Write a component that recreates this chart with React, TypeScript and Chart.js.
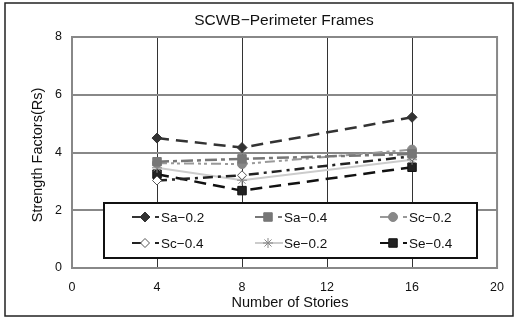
import React, { useEffect, useRef } from "react";
import { Chart, registerables } from "chart.js";

Chart.register(...registerables);

const stories = [4, 8, 16];
const seriesNames = ["Sa−0.2", "Sa−0.4", "Sc−0.2", "Sc−0.4", "Se−0.2", "Se−0.4"];
const saA = [4.5, 4.17, 5.22];
const saB = [3.68, 3.78, 3.95];
const scA = [3.63, 3.6, 4.1];
const scB = [3.03, 3.21, 3.87];
const seA = [3.47, 3.04, 3.75];
const seB = [3.25, 2.68, 3.49];
const xTicks = [0, 4, 8, 12, 16, 20];
const yTicks = [0, 2, 4, 6, 8];

const FONT = "'Liberation Sans', Arial, sans-serif";

const styles = [
  { line: "#333", fill: "#333", border: "#333", dash: [12, 7], width: 2.5, pt: "rectRot", r: 5 },
  { line: "#777", fill: "#777", border: "#777", dash: [12, 4, 4, 4], width: 2.5, pt: "rect", r: 6 },
  { line: "#999", fill: "#888", border: "#888", dash: [10, 4, 3, 3, 3, 4], width: 2, pt: "circle", r: 4.5 },
  { line: "#222", fill: "#fff", border: "#555", dash: [10, 5, 3, 5], width: 2.5, pt: "rectRot", r: 4.5 },
  { line: "#ccc", fill: "#888", border: "#888", dash: [], width: 2, pt: "star", r: 5 },
  { line: "#111", fill: "#222", border: "#111", dash: [12, 7], width: 2.5, pt: "rect", r: 6 },
];

const allData = [saA, saB, scA, scB, seA, seB];

function drawMarker(ctx: CanvasRenderingContext2D, pt: string, r: number, x: number, y: number, fill: string, border: string) {
  ctx.save();
  ctx.fillStyle = fill;
  ctx.strokeStyle = border;
  ctx.lineWidth = 1;
  ctx.beginPath();
  if (pt === "rectRot") {
    ctx.moveTo(x - r, y);
    ctx.lineTo(x, y - r);
    ctx.lineTo(x + r, y);
    ctx.lineTo(x, y + r);
    ctx.closePath();
    ctx.fill();
    ctx.stroke();
  } else if (pt === "rect") {
    const s = Math.SQRT1_2 * r;
    ctx.rect(x - s, y - s, 2 * s, 2 * s);
    ctx.fill();
    ctx.stroke();
  } else if (pt === "circle") {
    ctx.arc(x, y, r, 0, Math.PI * 2);
    ctx.fill();
    ctx.stroke();
  } else {
    for (let k = 0; k < 4; k++) {
      const ang = (k * Math.PI) / 4;
      ctx.moveTo(x - Math.cos(ang) * r, y - Math.sin(ang) * r);
      ctx.lineTo(x + Math.cos(ang) * r, y + Math.sin(ang) * r);
    }
    ctx.stroke();
  }
  ctx.restore();
}

const decor = {
  id: "decor",
  beforeDraw(chart: any) {
    const { ctx } = chart;
    ctx.save();
    ctx.fillStyle = "#fff";
    ctx.fillRect(0, 0, chart.width, chart.height);
    ctx.restore();
  },
  afterDraw(chart: any) {
    const { ctx, chartArea: a } = chart;
    ctx.save();
    ctx.strokeStyle = "#888";
    ctx.lineWidth = 2;
    ctx.strokeRect(a.left, a.top, a.right - a.left, a.bottom - a.top);
    ctx.strokeStyle = "#222";
    ctx.lineWidth = 1.5;
    ctx.strokeRect(5, 3, 508, 313);
    ctx.fillStyle = "#111";
    ctx.font = `15.5px ${FONT}`;
    ctx.textAlign = "center";
    ctx.textBaseline = "middle";
    ctx.fillText("SCWB−Perimeter Frames", 284, 21);
    ctx.font = `14.5px ${FONT}`;
    ctx.fillText("Number of Stories", 290, 303);
    ctx.save();
    ctx.translate(38, 155);
    ctx.rotate(-Math.PI / 2);
    ctx.fillText("Strength Factors(Rs)", 0, 0);
    ctx.restore();

    const bx = 104, by = 203, bw = 373, bh = 55;
    ctx.fillStyle = "#fff";
    ctx.fillRect(bx, by, bw, bh);
    ctx.strokeStyle = "#111";
    ctx.lineWidth = 2;
    ctx.strokeRect(bx, by, bw, bh);
    const cols = [132, 255, 380];
    const rows = [217, 243];
    ctx.font = `13.5px ${FONT}`;
    ctx.textAlign = "left";
    seriesNames.forEach((name, i) => {
      const s = styles[i];
      const x0 = cols[i % 3];
      const y = rows[Math.floor(i / 3)];
      const mx = x0 + 13;
      ctx.strokeStyle = s.line;
      ctx.lineWidth = 2;
      ctx.setLineDash([]);
      ctx.beginPath();
      if (i === 4) {
        ctx.moveTo(x0, y);
        ctx.lineTo(x0 + 28, y);
      } else {
        ctx.moveTo(x0, y);
        ctx.lineTo(mx, y);
        ctx.moveTo(mx + 10, y);
        ctx.lineTo(mx + 14, y);
      }
      ctx.stroke();
      drawMarker(ctx, s.pt, s.r, mx, y, s.fill, s.border);
      ctx.fillStyle = "#111";
      ctx.fillText(name, x0 + 29, y + 1);
    });
    ctx.restore();
  },
};

export default function App() {
  const ref = useRef<HTMLCanvasElement>(null);
  useEffect(() => {
    document.body.style.margin = "0";
    const chart = new Chart(ref.current!, {
      type: "line",
      data: {
        datasets: seriesNames.map((name, i) => ({
          label: name,
          data: stories.map((x, j) => ({ x, y: allData[i][j] })),
          borderColor: styles[i].line,
          borderWidth: styles[i].width,
          borderDash: styles[i].dash,
          backgroundColor: styles[i].fill,
          pointBackgroundColor: styles[i].fill,
          pointBorderColor: styles[i].border,
          pointBorderWidth: 1,
          pointStyle: styles[i].pt as any,
          pointRadius: styles[i].r,
          tension: 0,
          fill: false,
        })),
      },
      options: {
        animation: false,
        responsive: false,
        layout: { padding: { top: 37, right: 13, left: 0, bottom: 0 } },
        plugins: { legend: { display: false }, title: { display: false }, tooltip: { enabled: false } },
        scales: {
          x: {
            type: "linear",
            min: 0,
            max: 20,
            afterBuildTicks: (s: any) => { s.ticks = xTicks.map((v) => ({ value: v })); },
            afterFit: (s: any) => { s.height = 318 - 268; },
            ticks: { color: "#111", font: { family: FONT, size: 12.5 }, padding: 12, maxRotation: 0 },
            grid: { color: "#333", lineWidth: 1, drawTicks: false },
            border: { color: "#888", width: 2 },
          },
          y: {
            type: "linear",
            min: 0,
            max: 8,
            afterBuildTicks: (s: any) => { s.ticks = yTicks.map((v) => ({ value: v })); },
            afterFit: (s: any) => { s.width = 72; },
            ticks: { color: "#111", font: { family: FONT, size: 12.5 }, padding: 10 },
            grid: { color: "#888", lineWidth: 2, drawTicks: false },
            border: { color: "#888", width: 2 },
          },
        },
      },
      plugins: [decor],
    });
    return () => chart.destroy();
  }, []);
  return (
    <div style={{ width: 516, height: 318 }}>
      <canvas ref={ref} width={516} height={318} />
    </div>
  );
}
